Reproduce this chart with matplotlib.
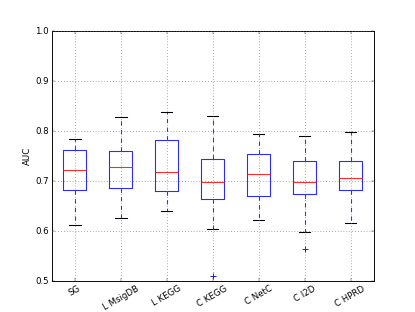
import matplotlib
matplotlib.use('Agg')
import matplotlib.pyplot as plt

# box statistics
labels = ['SG', 'L MsigDB', 'L KEGG', 'C KEGG', 'C NetC', 'C I2D', 'C HPRD']
whishi = [0.784, 0.828, 0.837, 0.829, 0.793, 0.790, 0.797]
q3 = [0.761, 0.759, 0.781, 0.744, 0.753, 0.740, 0.740]
medians = [0.721, 0.727, 0.717, 0.697, 0.713, 0.697, 0.705]
q1 = [0.682, 0.685, 0.679, 0.663, 0.669, 0.673, 0.681]
whislo = [0.611, 0.626, 0.640, 0.604, 0.622, 0.597, 0.616]
fliers = [[], [], [], [0.509], [], [0.564], []]

plt.style.use('classic')
plt.rcParams['axes.linewidth'] = 1.3

# original was 8x6 at 80 dpi, shown at 415 px wide
fig = plt.figure(figsize=(8, 6.02), dpi=51.875)
ax = fig.add_subplot(111)

stats = []
for i in range(len(labels)):
    stats.append({'label': labels[i], 'med': medians[i], 'q1': q1[i], 'q3': q3[i],
                  'whislo': whislo[i], 'whishi': whishi[i], 'fliers': fliers[i]})

lw = 1.5
ax.bxp(stats, widths=0.5,
       boxprops=dict(color='#2a2aff', linewidth=lw),
       whiskerprops=dict(color='#2a2aff', linestyle='--', linewidth=lw),
       capprops=dict(color='k', linewidth=lw),
       medianprops=dict(color='#ff2a2a', linewidth=lw),
       flierprops=dict(marker='+', color='b', markeredgecolor='b', markerfacecolor='none',
                       markersize=7, markeredgewidth=1.2, linestyle='none'))

ax.set_ylim(0.5, 1.0)
ax.set_xlim(0.5, 7.5)
ax.set_ylabel('AUC')
ax.grid(True, color='0.4', linewidth=1.0)
plt.setp(ax.get_xticklabels(), rotation=30)

fig.savefig('out.png', dpi=51.875)
